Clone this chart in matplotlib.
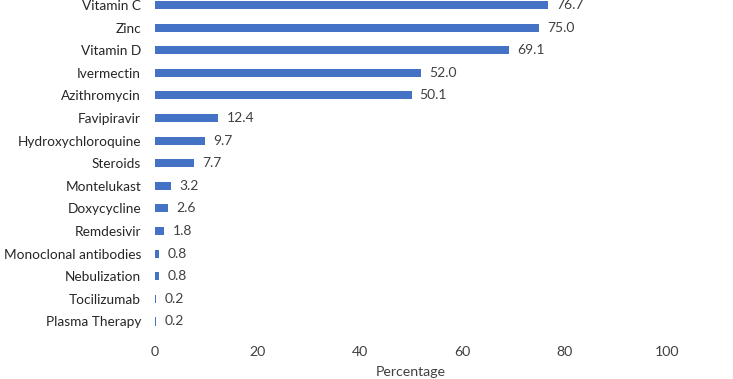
import matplotlib
matplotlib.use("Agg")
import matplotlib.pyplot as plt

categories = ["Vitamin C", "Zinc", "Vitamin D", "Ivermectin", "Azithromycin",
              "Favipiravir", "Hydroxychloroquine", "Steroids", "Montelukast",
              "Doxycycline", "Remdesivir", "Monoclonal antibodies", "Nebulization",
              "Tocilizumab", "Plasma Therapy"]
values = [76.7, 75.0, 69.1, 52.0, 50.1, 12.4, 9.7, 7.7, 3.2, 2.6, 1.8, 0.8, 0.8, 0.2, 0.2]
xticks = [0, 20, 40, 60, 80, 100]

plt.rcParams['font.family'] = ['Lato', 'DejaVu Sans']

fig = plt.figure(figsize=(7.33, 3.79), dpi=100)
ax = fig.add_axes([155/733, 44/379, 512/733, 335/379])

n = len(categories)
ypos = list(range(n - 1, -1, -1))
ax.barh(ypos, values, height=0.36, color="#4472C4")
for y, v in zip(ypos, values):
    ax.text(v + 1.6, y, f"{v:.1f}", va="center", ha="left", fontsize=10, color="#404040")

ax.set_yticks(ypos)
ax.set_yticklabels(categories, fontsize=9.8, color="#262626")
ax.set_xticks(xticks)
ax.set_xticklabels([str(t) for t in xticks], fontsize=10.2, color="#404040")
ax.set_xlim(0, 100)
ax.set_ylim(-0.6, n - 1 + 5/22.64)
ax.tick_params(axis="both", length=0)
ax.tick_params(axis="y", pad=10)
ax.tick_params(axis="x", pad=8)
for s in ax.spines.values():
    s.set_visible(False)
ax.set_xlabel("Percentage", fontsize=10.2, color="#404040", labelpad=5.5)

fig.savefig("out.png", dpi=100)
